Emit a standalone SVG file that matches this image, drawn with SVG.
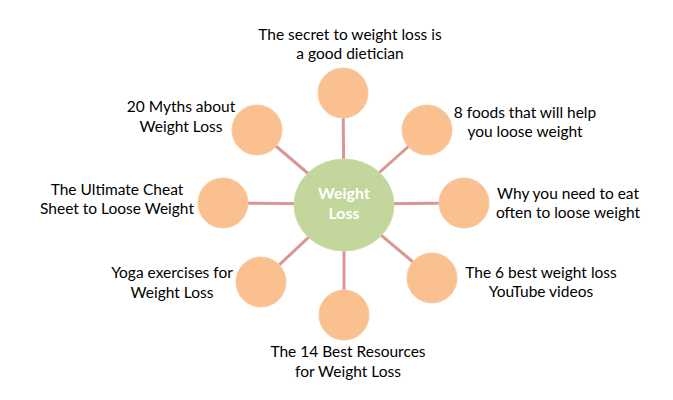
<svg xmlns="http://www.w3.org/2000/svg" width="673" height="400" viewBox="0 0 673 400">
<style>
.lbl{font-family:Lato,"Open Sans","Liberation Sans",sans-serif;font-size:15.5px;fill:#000;text-anchor:middle}
.sat{fill:#FAC090;stroke:#F9C9A0;stroke-width:1}
.hub{fill:#C3D69B;stroke:#CADDA6;stroke-width:1}
.hubt{font-family:Lato,"Open Sans","Liberation Sans",sans-serif;font-size:16px;font-weight:bold;fill:#fff;text-anchor:middle}
.con{stroke:#D99694;stroke-width:3;fill:none}
</style>
<rect width="673" height="400" fill="#fff"/>
<g id="connectors">
<line class="con" x1="344" y1="204" x2="343" y2="93"/>
<line class="con" x1="344" y1="204" x2="427" y2="130"/>
<line class="con" x1="344" y1="204" x2="464" y2="203"/>
<line class="con" x1="344" y1="204" x2="432" y2="278"/>
<line class="con" x1="344" y1="204" x2="344" y2="315"/>
<line class="con" x1="344" y1="204" x2="261" y2="282"/>
<line class="con" x1="344" y1="204" x2="223" y2="203"/>
<line class="con" x1="344" y1="204" x2="257" y2="130"/>
</g>
<g id="hub">
<ellipse class="hub" cx="344" cy="205" rx="50" ry="46"/>
<text class="hubt" x="344" y="199">Weight</text>
<text class="hubt" x="344" y="219">Loss</text>
</g>
<g id="n-top">
<circle class="sat" cx="343" cy="93" r="25"/>
<text class="lbl" x="350" y="40">The secret to weight loss is</text>
<text class="lbl" x="350" y="59">a good dietician</text>
</g>
<g id="n-topright">
<circle class="sat" cx="427" cy="130" r="25"/>
<text class="lbl" x="525" y="118">8 foods that will help</text>
<text class="lbl" x="525" y="137">you loose weight</text>
</g>
<g id="n-right">
<circle class="sat" cx="464" cy="203" r="25"/>
<text class="lbl" x="568" y="199">Why you need to eat</text>
<text class="lbl" x="568" y="218">often to loose weight</text>
</g>
<g id="n-bottomright">
<circle class="sat" cx="432" cy="278" r="25"/>
<text class="lbl" x="541" y="278">The 6 best weight loss</text>
<text class="lbl" x="541" y="297">YouTube videos</text>
</g>
<g id="n-bottom">
<circle class="sat" cx="344" cy="315" r="25"/>
<text class="lbl" x="348" y="357">The 14 Best Resources</text>
<text class="lbl" x="348" y="377">for Weight Loss</text>
</g>
<g id="n-bottomleft">
<circle class="sat" cx="261" cy="282" r="25"/>
<text class="lbl" x="172" y="278">Yoga exercises for</text>
<text class="lbl" x="172" y="298">Weight Loss</text>
</g>
<g id="n-left">
<circle class="sat" cx="223" cy="203" r="25"/>
<text class="lbl" x="117" y="195">The Ultimate Cheat</text>
<text class="lbl" x="117" y="214">Sheet to Loose Weight</text>
</g>
<g id="n-topleft">
<circle class="sat" cx="257" cy="130" r="25"/>
<text class="lbl" x="181" y="112">20 Myths about</text>
<text class="lbl" x="181" y="132">Weight Loss</text>
</g>
</svg>
